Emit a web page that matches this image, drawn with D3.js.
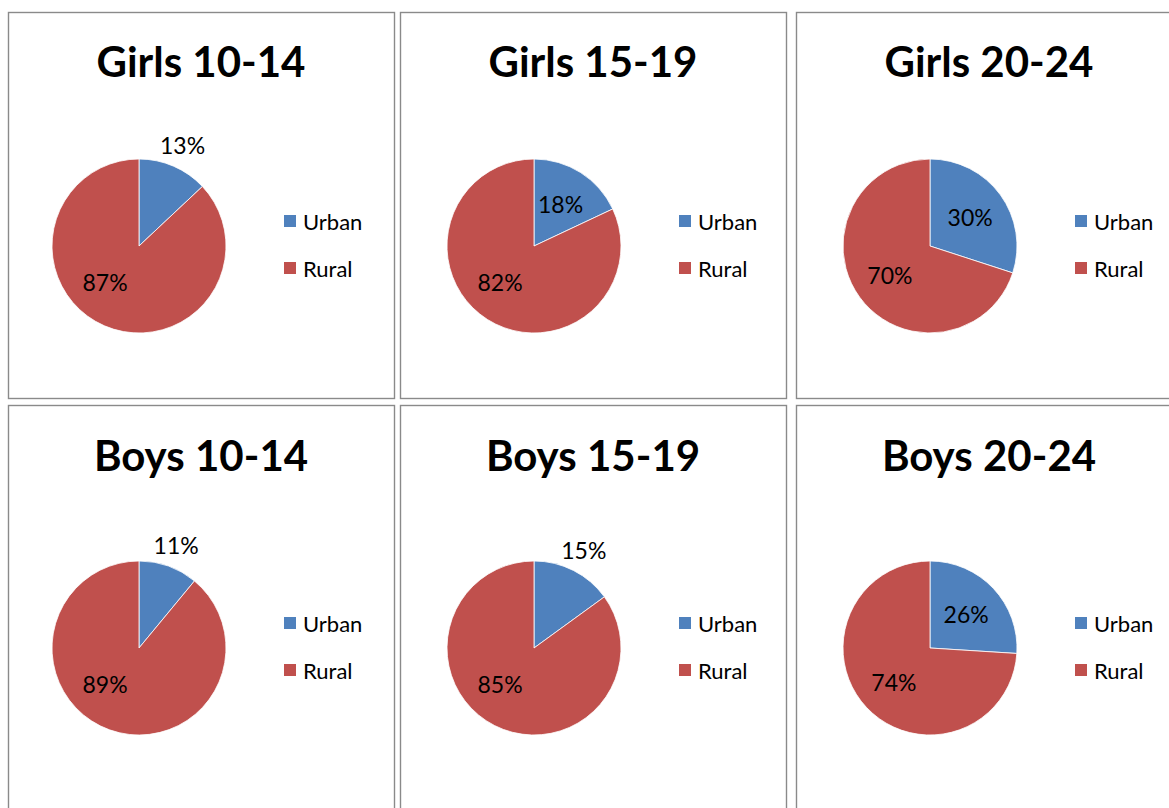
<!DOCTYPE html>
<html>
<head>
<meta charset="utf-8">
<script src="https://d3js.org/d3.v7.min.js"></script>
<style>
  body { margin: 0; background: #fff; }
  text { font-family: Lato, "Open Sans", sans-serif; fill: #000; }
</style>
</head>
<body>
<div id="chart"></div>
<script>
// data
const titles = ['Girls 10-14', 'Girls 15-19', 'Girls 20-24', 'Boys 10-14', 'Boys 15-19', 'Boys 20-24'];
const categories = ['Urban', 'Rural'];
const urbanShare = [13, 18, 30, 11, 15, 26];
const ruralShare = [87, 82, 70, 89, 85, 74];
const colours = ['#4f81bd', '#c0504d'];

const width = 1169, height = 808;
const panelX = [8, 400, 796];
const panelY = [12, 405];
const panelW = 386;
const rowH = [386, 420];
const radius = 87;

const svg = d3.select("#chart")
              .append("svg")
                .attr("width", width)
                .attr("height", height);

const pie = d3.pie().sort(null).value(d => d.value);
const arc = d3.arc().innerRadius(0).outerRadius(radius);

const colour = d3.scaleOrdinal().domain(categories).range(colours);

titles.forEach((title, i) => {
    const col = i % 3, row = Math.floor(i / 3);
    const g = svg.append("g")
                 .attr("transform", `translate(${panelX[col]}, ${panelY[row]})`);

    // panel frame
    g.append("rect")
       .attr("x", 0.5).attr("y", 0.5)
       .attr("width", panelW).attr("height", rowH[row])
       .attr("fill", "none")
       .attr("stroke", "#8a8a8a")
       .attr("stroke-width", 1.4);

    g.append("text")
       .attr("x", panelW / 2)
       .attr("y", row == 0 ? 65 : 66)
       .attr("text-anchor", "middle")
       .style("font-size", "42px")
       .style("font-weight", "bold")
       .text(title);

    const cx = col == 0 ? 131 : 134;
    const cy = row == 0 ? 234 : 243;
    const data = [
        { key: categories[0], value: urbanShare[i] },
        { key: categories[1], value: ruralShare[i] }
    ];
    const arcs = pie(data);

    const pg = g.append("g").attr("transform", `translate(${cx}, ${cy})`);

    pg.selectAll("path")
      .data(arcs)
      .enter()
      .append("path")
        .attr("d", arc)
        .attr("fill", d => colour(d.data.key))
        .attr("stroke", "#fff")
        .attr("stroke-width", 0.8);

    // labels: small slices go outside, big slice label is pulled toward lower-left
    pg.selectAll("text.lbl")
      .data(arcs)
      .enter()
      .append("text")
        .attr("class", "lbl")
        .attr("transform", d => {
            let a = (d.startAngle + d.endAngle) / 2;
            let r = radius * 0.57;
            if (d.data.value < 16) r = radius * 1.26;
            if (d.data.value > 50) a = Math.max(a, Math.PI * 1.24);
            return `translate(${Math.sin(a) * r}, ${-Math.cos(a) * r})`;
        })
        .attr("text-anchor", "middle")
        .attr("dominant-baseline", "central")
        .style("font-size", "23px")
        .text(d => d.data.value + "%");

    // legend
    const lg = g.selectAll("g.legend")
                .data(categories)
                .enter()
                .append("g")
                  .attr("class", "legend")
                  .attr("transform", (d, j) => `translate(${cx + 145}, ${cy - 25 + j * 47})`);

    lg.append("rect")
        .attr("x", 0).attr("y", -6)
        .attr("width", 12).attr("height", 12)
        .attr("fill", d => colour(d));

    lg.append("text")
        .attr("x", 19)
        .attr("dominant-baseline", "central")
        .style("font-size", "22px")
        .text(d => d);
});
</script>
</body>
</html>
